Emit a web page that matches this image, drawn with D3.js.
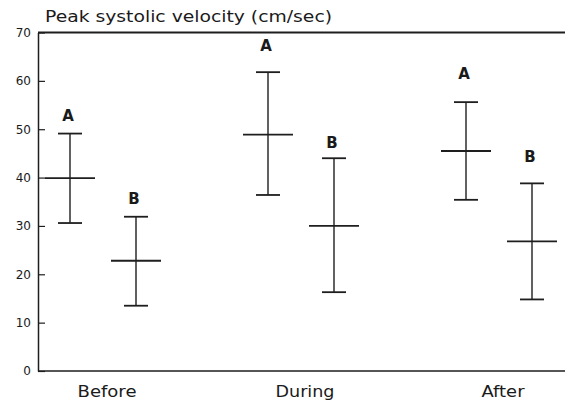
<!DOCTYPE html>
<html><head><meta charset="utf-8">
<script src="https://cdn.jsdelivr.net/npm/d3@7"></script>
<style>body{margin:0;background:#fff}svg{display:block}text{font-family:"DejaVu Sans",Verdana,sans-serif;fill:#1a1a1a}</style>
</head><body>
<script>
const categories = ["Before", "During", "After"];
const groups = ["A", "B"];
// per category: [A, B]
const meanValues  = [[39.9, 22.8], [48.9, 30.0], [45.5, 26.8]];
const upperValues = [[49.1, 31.9], [61.8, 44.0], [55.6, 38.8]];
const lowerValues = [[30.6, 13.5], [36.4, 16.3], [35.4, 14.8]];
const labelValues = [[51.8, 34.6], [66.1, 46.1], [60.4, 43.2]];
const yTicks = [0, 10, 20, 30, 40, 50, 60, 70];
const title = "Peak systolic velocity (cm/sec)";

(function () {
const W = 565, H = 403;
const svg = d3.select("body").append("svg").attr("width", W).attr("height", H);
const ink = "#1e1e1e";
const font = '"DejaVu Sans",Verdana,sans-serif';
const mLeft = 38, mRight = 565, mTop = 32.5, mBottom = 371;

const y = d3.scaleLinear().domain([0, 70]).range([mBottom, mTop]);
const x = d3.scalePoint().domain(categories).range([103, 499]);
const xs = d3.scalePoint().domain(groups).range([-33, 33]);

// title
svg.append("text").attr("x", 45).attr("y", 22).attr("font-size", 16)
  .attr("textLength", 287).attr("lengthAdjust", "spacingAndGlyphs").text(title);

// y axis
const yAxis = d3.axisLeft(y).tickValues(yTicks).tickSizeInner(-7).tickSizeOuter(0).tickPadding(7);
const gy = svg.append("g").attr("transform", `translate(${mLeft},0)`).call(yAxis);
gy.select(".domain").attr("stroke", ink).attr("stroke-width", 1.5);
gy.selectAll(".tick line").attr("stroke", ink).attr("stroke-width", 1.2);
gy.selectAll(".tick text").attr("font-size", 12).attr("fill", ink).attr("font-family", font);

// top and bottom frame lines
svg.append("line").attr("x1", mLeft).attr("x2", mRight).attr("y1", y(70)).attr("y2", y(70))
  .attr("stroke", ink).attr("stroke-width", 1.8);
svg.append("line").attr("x1", mLeft).attr("x2", mRight).attr("y1", y(0)).attr("y2", y(0))
  .attr("stroke", ink).attr("stroke-width", 1.5);

// category labels
const catLen = {Before: 59, During: 59, After: 43};
svg.append("g").selectAll("text").data(categories).join("text")
  .attr("x", d => x(d) + 4).attr("y", 397).attr("text-anchor", "middle")
  .attr("font-size", 16.5).attr("textLength", d => catLen[d]).attr("lengthAdjust", "spacingAndGlyphs")
  .text(d => d);

// error bars
const rows = [];
categories.forEach((c, i) => groups.forEach((g, j) => rows.push({
  c, g, mean: meanValues[i][j], hi: upperValues[i][j], lo: lowerValues[i][j], lab: labelValues[i][j]
})));

const bars = svg.append("g").selectAll("g").data(rows).join("g")
  .attr("transform", d => `translate(${x(d.c) + xs(d.g)},0)`)
  .attr("stroke", ink).attr("stroke-width", 1.4);
bars.append("line").attr("x1", 0).attr("x2", 0).attr("y1", d => y(d.hi)).attr("y2", d => y(d.lo));
bars.append("line").attr("x1", -12).attr("x2", 12).attr("y1", d => y(d.hi)).attr("y2", d => y(d.hi)).attr("stroke-width", 1.8);
bars.append("line").attr("x1", -12).attr("x2", 12).attr("y1", d => y(d.lo)).attr("y2", d => y(d.lo)).attr("stroke-width", 1.8);
bars.append("line").attr("x1", -25).attr("x2", 25).attr("y1", d => y(d.mean)).attr("y2", d => y(d.mean)).attr("stroke-width", 1.8);
bars.append("text").attr("x", -2).attr("y", d => y(d.lab)).attr("text-anchor", "middle")
  .attr("stroke", "none").attr("font-size", 15).attr("font-weight", "bold").text(d => d.g);
})();
</script>
</body></html>
